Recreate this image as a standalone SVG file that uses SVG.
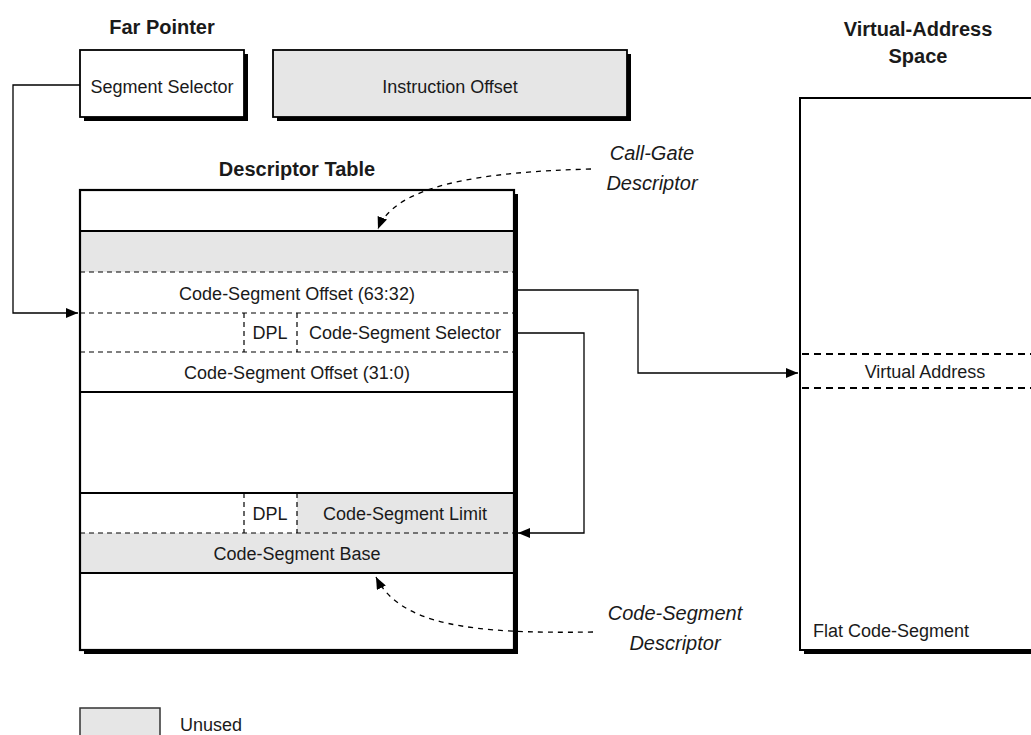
<svg xmlns="http://www.w3.org/2000/svg" width="1031" height="735" viewBox="0 0 1031 735">
<defs>
<style>
text{font-family:"Liberation Sans",Arial,sans-serif;fill:#1a1a1a}
.lbl{font-size:18px}
.ttl{font-size:20px;font-weight:bold}
.it{font-size:20px;font-style:italic}
.mid{text-anchor:middle}
.shadow{fill:#000}
.box{stroke:#000;stroke-width:1.8}
.white{fill:#fff}
.gray{fill:#e6e6e6}
.solid{stroke:#000;stroke-width:2.2;fill:none}
.dash{stroke:#000;stroke-width:1.2;stroke-dasharray:5 4;fill:none}
.vdash{stroke:#000;stroke-width:2.2;stroke-dasharray:7 5;fill:none}
.conn{stroke:#000;stroke-width:1.3;fill:none}
.cdash{stroke:#000;stroke-width:1.3;stroke-dasharray:5 5;fill:none}
</style>
<marker id="ah" viewBox="0 0 12 10" refX="12" refY="5" markerWidth="12" markerHeight="10" markerUnits="userSpaceOnUse" orient="auto">
<path d="M0,0 L12,5 L0,10 z" fill="#000"/>
</marker>
</defs>
<rect width="1031" height="735" fill="#fff"/>

<g id="far-pointer">
<text class="ttl mid" x="162" y="34">Far Pointer</text>
</g>

<g id="segment-selector">
<rect class="shadow" x="84" y="54" width="164" height="67"/>
<rect class="box white" x="80" y="50" width="164" height="67"/>
<text class="lbl mid" x="162" y="93">Segment Selector</text>
</g>

<g id="instruction-offset">
<rect class="shadow" x="277" y="54" width="354" height="67"/>
<rect class="box gray" x="273" y="50" width="354" height="67"/>
<text class="lbl mid" x="450" y="93">Instruction Offset</text>
</g>

<g id="descriptor-table">
<text class="ttl mid" x="297" y="176">Descriptor Table</text>
<rect class="shadow" x="84" y="194" width="434" height="460"/>
<rect class="white" x="80" y="190" width="434" height="460"/>
<rect class="gray" x="80" y="231" width="434" height="41"/>
<rect class="gray" x="297" y="493" width="217" height="40"/>
<rect class="gray" x="80" y="533" width="434" height="40"/>
<line class="solid" x1="80" y1="231" x2="514" y2="231"/>
<line class="dash" x1="80" y1="272" x2="514" y2="272"/>
<line class="dash" x1="80" y1="313" x2="514" y2="313"/>
<line class="dash" x1="80" y1="352" x2="514" y2="352"/>
<line class="solid" x1="80" y1="392" x2="514" y2="392"/>
<line class="solid" x1="80" y1="493" x2="514" y2="493"/>
<line class="dash" x1="80" y1="533" x2="514" y2="533"/>
<line class="solid" x1="80" y1="573" x2="514" y2="573"/>
<line class="dash" x1="244" y1="313" x2="244" y2="352"/>
<line class="dash" x1="297" y1="313" x2="297" y2="352"/>
<line class="dash" x1="244" y1="493" x2="244" y2="533"/>
<line class="dash" x1="297" y1="493" x2="297" y2="533"/>
<rect x="80" y="190" width="434" height="460" fill="none" stroke="#000" stroke-width="2.2"/>
<text class="lbl mid" x="297" y="300">Code-Segment Offset (63:32)</text>
<text class="lbl mid" x="270" y="339">DPL</text>
<text class="lbl mid" x="405" y="339">Code-Segment Selector</text>
<text class="lbl mid" x="297" y="379">Code-Segment Offset (31:0)</text>
<text class="lbl mid" x="270" y="520">DPL</text>
<text class="lbl mid" x="405" y="520">Code-Segment Limit</text>
<text class="lbl mid" x="297" y="560">Code-Segment Base</text>
</g>

<g id="virtual-address-space">
<text class="ttl mid" x="918" y="36">Virtual-Address</text>
<text class="ttl mid" x="918" y="63">Space</text>
<rect class="shadow" x="804" y="102" width="240" height="552"/>
<rect class="white" x="800" y="98" width="240" height="552" stroke="#000" stroke-width="2"/>
<line class="vdash" x1="802" y1="354" x2="1031" y2="354"/>
<line class="vdash" x1="802" y1="388" x2="1031" y2="388"/>
<text class="lbl mid" x="925" y="378">Virtual Address</text>
<text class="lbl" x="813" y="637">Flat Code-Segment</text>
</g>

<g id="call-gate-label">
<text class="it mid" x="652" y="160">Call-Gate</text>
<text class="it mid" x="652" y="190">Descriptor</text>
</g>

<g id="code-segment-label">
<text class="it mid" x="675" y="620">Code-Segment</text>
<text class="it mid" x="675" y="650">Descriptor</text>
</g>

<g id="legend">
<rect class="gray" x="80" y="708" width="80" height="40" stroke="#333" stroke-width="1.5"/>
<text class="lbl" x="180" y="731">Unused</text>
</g>

<g id="connectors">
<path class="conn" d="M80 85 H13 V313 H78" marker-end="url(#ah)"/>
<path class="conn" d="M518 290 H638 V373 H798" marker-end="url(#ah)"/>
<path class="conn" d="M518 333 H584 V533 H518" marker-end="url(#ah)"/>
<path class="cdash" d="M591 169 C480 172 395 185 378 229" marker-end="url(#ah)"/>
<path class="cdash" d="M593 632 C470 634 400 625 376 577" marker-end="url(#ah)"/>
</g>
</svg>
